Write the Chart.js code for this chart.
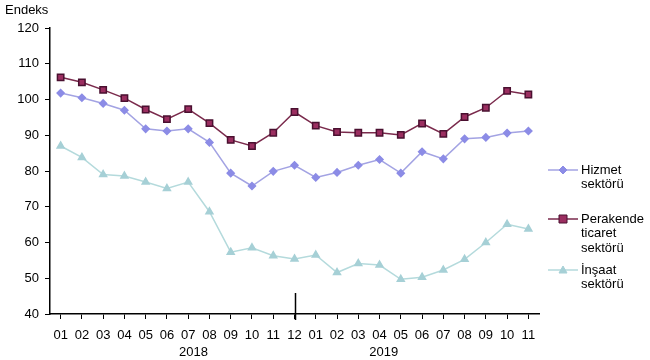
<!DOCTYPE html>
<html>
<head>
<meta charset="utf-8">
<script src="https://cdn.jsdelivr.net/npm/chart.js@4.4.0/dist/chart.umd.min.js"></script>
<style>
  body { margin: 0; background: #fff; }
  #wrap { width: 650px; height: 360px; }
</style>
</head>
<body>
<div id="wrap"><canvas id="myChart" width="650" height="360"></canvas></div>
<script>
const months = ["01", "02", "03", "04", "05", "06", "07", "08", "09", "10", "11", "12",
                "01", "02", "03", "04", "05", "06", "07", "08", "09", "10", "11"];
const years = ["2018", "2019"];
const hizmet = [101.8, 100.5, 98.9, 97.0, 91.8, 91.2, 91.8, 88.0, 79.4, 75.8, 79.9, 81.6,
                78.2, 79.6, 81.6, 83.2, 79.4, 85.4, 83.4, 89.0, 89.4, 90.6, 91.2];
const perakende = [106.2, 104.8, 102.7, 100.4, 97.2, 94.5, 97.3, 93.4, 88.7, 87.0, 90.7, 96.5,
                   92.7, 90.9, 90.7, 90.7, 90.1, 93.3, 90.4, 95.1, 97.7, 102.4, 101.4];
const insaat = [87.0, 83.8, 79.0, 78.6, 76.9, 75.1, 76.9, 68.6, 57.3, 58.5, 56.3, 55.4,
                56.5, 51.6, 54.1, 53.7, 49.7, 50.3, 52.3, 55.3, 60.0, 65.1, 63.8];
const seriesNames = [["Hizmet", "sektörü"], ["Perakende", "ticaret", "sektörü"], ["İnşaat", "sektörü"]];

const FONT = "Arial, 'Liberation Sans', sans-serif";

// extra drawing: axis title, year labels, year separator, legend
const extras = {
    id: 'extras',
    afterDraw(chart) {
        const c = chart.ctx;
        const x = chart.scales.x;
        const area = chart.chartArea;
        c.save();
        c.fillStyle = '#000';
        c.font = '13px ' + FONT;
        c.textBaseline = 'middle';
        c.textAlign = 'left';
        c.fillText('Endeks', 5, 10);

        // year labels
        c.textAlign = 'center';
        c.fillText(years[0], x.getPixelForValue(6.25), 352);
        c.fillText(years[1], x.getPixelForValue(15.2), 352);

        // long tick between the years
        const px = Math.round(x.getPixelForValue(11)) + 0.5;
        c.strokeStyle = '#000';
        c.lineWidth = 1.5;
        c.beginPath();
        c.moveTo(px, area.bottom - 21);
        c.lineTo(px, area.bottom + 6);
        c.stroke();

        // legend
        const lx = area.right + 9;
        const ys = [170, 219, 270];
        chart.data.datasets.forEach(function (ds, i) {
            const y = ys[i];
            c.strokeStyle = ds.borderColor;
            c.lineWidth = 1.5;
            c.beginPath();
            c.moveTo(lx, y);
            c.lineTo(lx + 30, y);
            c.stroke();
            c.fillStyle = ds.pointBackgroundColor;
            c.strokeStyle = ds.pointBorderColor;
            c.lineWidth = 1;
            const mx = lx + 15;
            c.beginPath();
            if (ds.pointStyle === 'rect') {
                c.rect(mx - 4, y - 4, 8, 8);
            } else if (ds.pointStyle === 'rectRot') {
                c.moveTo(mx, y - 4); c.lineTo(mx + 4, y); c.lineTo(mx, y + 4); c.lineTo(mx - 4, y); c.closePath();
            } else {
                c.moveTo(mx, y - 4); c.lineTo(mx + 4, y + 3); c.lineTo(mx - 4, y + 3); c.closePath();
            }
            c.fill();
            c.stroke();
            c.fillStyle = '#000';
            c.textAlign = 'left';
            seriesNames[i].forEach(function (line, j) {
                c.fillText(line, lx + 33, y + j * 14.5);
            });
        });
        c.restore();
    }
};

const ctx = document.getElementById("myChart");
const myChart = new Chart(ctx, {
    type: 'line',
    data: {
        labels: months,
        datasets: [{
            label: 'Hizmet sektörü',
            data: hizmet,
            borderColor: '#a3a3e3',
            backgroundColor: '#8c8ce6',
            pointBackgroundColor: '#8c8ce6',
            pointBorderColor: '#8c8ce6',
            pointStyle: 'rectRot',
            pointRadius: 3.5,
            borderWidth: 1.5,
            tension: 0
        }, {
            label: 'Perakende ticaret sektörü',
            data: perakende,
            borderColor: '#7a2a4c',
            backgroundColor: '#9b2e60',
            pointBackgroundColor: '#9b2e60',
            pointBorderColor: '#4a1030',
            pointStyle: 'rect',
            pointRadius: 4.5,
            borderWidth: 1.5,
            tension: 0
        }, {
            label: 'İnşaat sektörü',
            data: insaat,
            borderColor: '#b4dadc',
            backgroundColor: '#a6d0d6',
            pointBackgroundColor: '#a6d0d6',
            pointBorderColor: '#a6d0d6',
            pointStyle: 'triangle',
            pointRadius: 4,
            borderWidth: 1.5,
            tension: 0
        }]
    },
    options: {
        responsive: false,
        animation: false,
        layout: { padding: { left: 0, right: 111, top: 28, bottom: 0 } },
        plugins: {
            legend: { display: false },
            tooltip: { enabled: false },
            title: { display: false }
        },
        scales: {
            x: {
                offset: true,
                border: { color: '#000', width: 1.5 },
                grid: { display: true, drawOnChartArea: false, drawTicks: true, tickLength: 5, color: '#000', offset: false },
                ticks: { color: '#000', font: { size: 13, family: FONT }, autoSkip: false, maxRotation: 0, padding: 9 },
                afterFit: function (scale) { scale.height = 46; }
            },
            y: {
                min: 40,
                max: 120,
                border: { color: '#000', width: 1.5 },
                grid: { display: true, drawOnChartArea: false, drawTicks: true, tickLength: 5, color: '#000' },
                ticks: { stepSize: 10, color: '#000', font: { size: 13, family: FONT }, padding: 6 },
                afterFit: function (scale) { scale.width = 50; }
            }
        }
    },
    plugins: [extras]
});
</script>
</body>
</html>
